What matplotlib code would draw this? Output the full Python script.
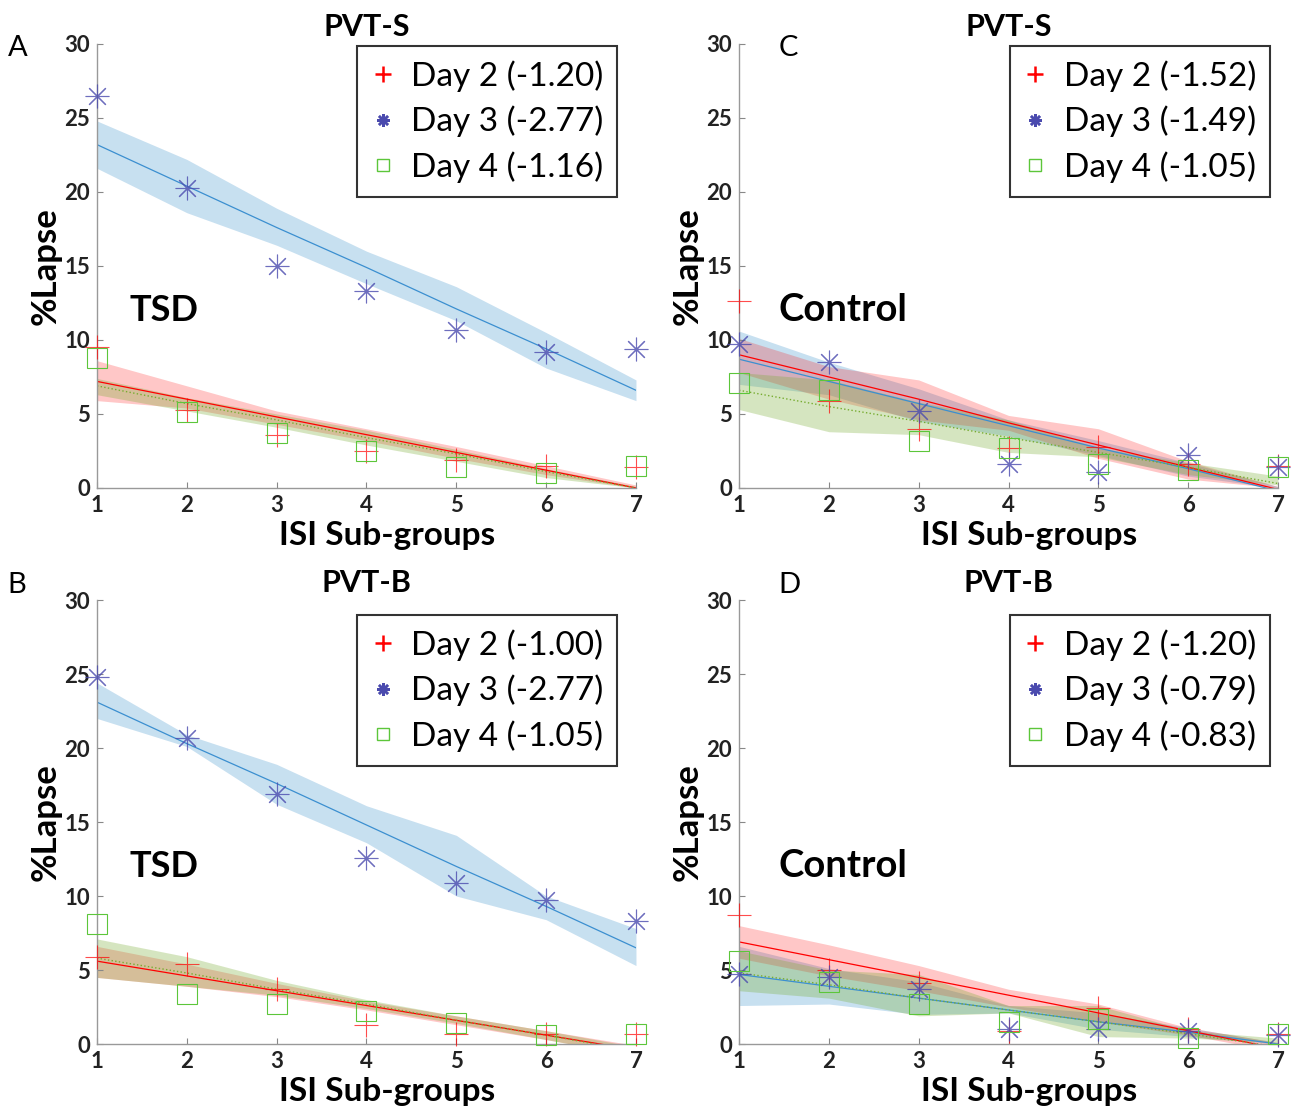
import matplotlib
matplotlib.use("Agg")
import matplotlib.pyplot as plt
from matplotlib.lines import Line2D

plt.rcParams['font.family'] = ['Lato', 'DejaVu Sans']

isi = [1, 2, 3, 4, 5, 6, 7]

# ---- Panel A: PVT-S, TSD
a_d2 = [9.5, 5.3, 3.6, 2.5, 1.9, 1.5, 1.4]
a_d3 = [26.5, 20.3, 15.0, 13.3, 10.7, 9.2, 9.4]
a_d4 = [8.8, 5.1, 3.7, 2.5, 1.4, 1.0, 1.5]
a_d2_fit = [7.2, 6.0, 4.8, 3.6, 2.4, 1.2, 0.0]
a_d3_fit = [23.2, 20.4, 17.6, 14.9, 12.1, 9.4, 6.6]
a_d4_fit = [6.9, 5.7, 4.6, 3.4, 2.3, 1.1, 0.0]
a_d2_lo = [5.9, 5.4, 4.3, 3.2, 2.0, 0.9, 0.0]
a_d2_hi = [8.6, 6.9, 5.2, 4.0, 2.8, 1.5, 0.2]
a_d3_lo = [21.6, 18.6, 16.4, 13.8, 11.3, 8.1, 5.9]
a_d3_hi = [24.8, 22.2, 18.9, 16.0, 13.6, 10.5, 7.3]
a_d4_lo = [6.3, 5.2, 4.1, 2.9, 1.8, 0.7, 0.0]
a_d4_hi = [7.4, 6.1, 5.0, 3.9, 2.6, 1.3, 0.1]
a_labels = ["Day 2 (-1.20)", "Day 3 (-2.77)", "Day 4 (-1.16)"]

# ---- Panel C: PVT-S, Control
c_d2 = [12.6, 5.9, 4.0, 2.7, 2.8, 1.6, 1.5]
c_d3 = [9.7, 8.5, 5.2, 1.6, 1.1, 2.2, 1.4]
c_d4 = [7.1, 6.6, 3.2, 2.7, 1.6, 1.2, 1.4]
c_d2_fit = [9.0, 7.5, 6.0, 4.4, 2.9, 1.4, -0.1]
c_d3_fit = [8.7, 7.2, 5.7, 4.2, 2.7, 1.3, -0.2]
c_d4_fit = [6.6, 5.5, 4.5, 3.4, 2.4, 1.4, 0.3]
c_d2_lo = [7.8, 6.0, 4.6, 3.9, 2.0, 0.6, 0.0]
c_d2_hi = [10.1, 8.2, 7.3, 4.9, 4.0, 1.8, 0.1]
c_d3_lo = [7.0, 6.3, 4.5, 3.5, 2.2, 0.8, 0.0]
c_d3_hi = [10.6, 8.5, 6.7, 4.6, 3.2, 1.7, 0.1]
c_d4_lo = [5.3, 3.8, 3.6, 2.4, 2.1, 0.9, 0.2]
c_d4_hi = [7.8, 7.3, 5.8, 4.6, 2.7, 1.7, 0.8]
c_labels = ["Day 2 (-1.52)", "Day 3 (-1.49)", "Day 4 (-1.05)"]

# ---- Panel B: PVT-B, TSD
b_d2 = [5.9, 5.4, 3.7, 1.3, 0.7, 0.7, 0.7]
b_d3 = [24.8, 20.7, 16.9, 12.6, 10.9, 9.7, 8.3]
b_d4 = [8.1, 3.4, 2.7, 2.2, 1.4, 0.6, 0.7]
b_d2_fit = [5.6, 4.6, 3.6, 2.6, 1.6, 0.6, -0.4]
b_d3_fit = [23.1, 20.3, 17.6, 14.8, 12.0, 9.3, 6.5]
b_d4_fit = [5.8, 4.8, 3.7, 2.7, 1.6, 0.6, -0.5]
b_d2_lo = [4.5, 3.9, 3.2, 2.3, 1.3, 0.3, -0.8]
b_d2_hi = [6.6, 5.4, 4.1, 2.9, 1.9, 0.9, -0.1]
b_d3_lo = [22.0, 20.1, 16.2, 13.6, 10.0, 8.4, 5.3]
b_d3_hi = [24.4, 20.9, 18.9, 16.1, 14.1, 10.0, 7.8]
b_d4_lo = [4.5, 3.9, 3.3, 2.4, 1.4, 0.3, -0.8]
b_d4_hi = [7.1, 5.9, 4.3, 3.0, 1.9, 0.9, -0.2]
b_labels = ["Day 2 (-1.00)", "Day 3 (-2.77)", "Day 4 (-1.05)"]

# ---- Panel D: PVT-B, Control
d_d2 = [8.7, 5.0, 4.1, 0.9, 2.4, 1.0, 0.7]
d_d3 = [4.7, 4.5, 3.7, 1.0, 1.0, 0.9, 0.6]
d_d4 = [5.6, 4.2, 2.7, 1.5, 1.7, 0.4, 0.7]
d_d2_fit = [6.9, 5.7, 4.5, 3.3, 2.1, 0.9, -0.3]
d_d3_fit = [4.7, 3.9, 3.1, 2.3, 1.5, 0.8, 0.0]
d_d4_fit = [4.8, 4.0, 3.1, 2.3, 1.5, 0.7, -0.2]
d_d2_lo = [5.8, 4.6, 3.6, 2.5, 1.5, 0.6, -0.5]
d_d2_hi = [8.0, 6.7, 5.3, 3.7, 2.7, 1.1, 0.1]
d_d3_lo = [2.6, 2.7, 2.0, 2.1, 1.0, 0.5, 0.0]
d_d3_hi = [6.6, 5.1, 4.2, 2.6, 2.1, 1.1, 0.1]
d_d4_lo = [3.6, 3.1, 1.9, 2.1, 0.5, 0.4, 0.1]
d_d4_hi = [6.3, 5.0, 4.7, 2.6, 2.6, 0.9, 0.4]
d_labels = ["Day 2 (-1.20)", "Day 3 (-0.79)", "Day 4 (-0.83)"]

red = "#ff0000"
blue_fill = "#0072BD"
blue_line = "#3b8fd0"
blue_mk = "#4a4aae"
green_fill = "#77AC30"
green_mk = "#5cc63a"
asterisk = (8, 2, 0)

panels = [
    dict(pos=[0.0749, 0.5608, 0.4162, 0.3996], title="PVT-S", letter="A", group="TSD",
         pts=(a_d2, a_d3, a_d4), fit=(a_d2_fit, a_d3_fit, a_d4_fit),
         lo=(a_d2_lo, a_d3_lo, a_d4_lo), hi=(a_d2_hi, a_d3_hi, a_d4_hi),
         labels=a_labels, leg=(0.965, 0.995), let_xy=(0.006, 0.957)),
    dict(pos=[0.5707, 0.5608, 0.4162, 0.3996], title="PVT-S", letter="C", group="Control",
         pts=(c_d2, c_d3, c_d4), fit=(c_d2_fit, c_d3_fit, c_d4_fit),
         lo=(c_d2_lo, c_d3_lo, c_d4_lo), hi=(c_d2_hi, c_d3_hi, c_d4_hi),
         labels=c_labels, leg=(0.985, 0.995), let_xy=(0.601, 0.957)),
    dict(pos=[0.0749, 0.0603, 0.4162, 0.3996], title="PVT-B", letter="B", group="TSD",
         pts=(b_d2, b_d3, b_d4), fit=(b_d2_fit, b_d3_fit, b_d4_fit),
         lo=(b_d2_lo, b_d3_lo, b_d4_lo), hi=(b_d2_hi, b_d3_hi, b_d4_hi),
         labels=b_labels, leg=(0.965, 0.966), let_xy=(0.006, 0.473)),
    dict(pos=[0.5707, 0.0603, 0.4162, 0.3996], title="PVT-B", letter="D", group="Control",
         pts=(d_d2, d_d3, d_d4), fit=(d_d2_fit, d_d3_fit, d_d4_fit),
         lo=(d_d2_lo, d_d3_lo, d_d4_lo), hi=(d_d2_hi, d_d3_hi, d_d4_hi),
         labels=d_labels, leg=(0.985, 0.966), let_xy=(0.601, 0.473)),
]

fig = plt.figure(figsize=(12.95, 11.11), dpi=100)

for p in panels:
    ax = fig.add_axes(p["pos"])
    d2, d3, d4 = p["pts"]
    f2, f3, f4 = p["fit"]
    l2, l3, l4 = p["lo"]
    h2, h3, h4 = p["hi"]

    # confidence bands
    ax.fill_between(isi, l3, h3, color=blue_fill, alpha=0.22, lw=0, zorder=1)
    ax.fill_between(isi, l2, h2, color=red, alpha=0.22, lw=0, zorder=1)
    ax.fill_between(isi, l4, h4, color=green_fill, alpha=0.3, lw=0, zorder=1)

    # fitted lines
    ax.plot(isi, f3, color=blue_line, lw=0.9, zorder=2)
    ax.plot(isi, f2, color=red, lw=0.9, zorder=2)
    ax.plot(isi, f4, color=green_fill, lw=1.0, ls=":", zorder=2)

    # observed values
    ax.plot(isi, d2, ls="none", marker="+", ms=17, mew=0.8, color=red, alpha=0.7,
            clip_on=False, zorder=3)
    ax.plot(isi, d3, ls="none", marker=asterisk, ms=17, mew=0.8, color=blue_mk, alpha=0.8,
            clip_on=False, zorder=3)
    ax.plot(isi, d4, ls="none", marker="s", ms=14, mew=0.8, mfc="none", mec=green_mk,
            clip_on=False, zorder=3)

    ax.set_xlim(1, 7)
    ax.set_ylim(0, 30)
    ax.set_xticks(isi)
    ax.set_yticks([0, 5, 10, 15, 20, 25, 30])
    ax.tick_params(direction="in", length=4, width=0.8, color="#888888",
                   labelsize=16, pad=5)
    for lab in ax.get_xticklabels() + ax.get_yticklabels():
        lab.set_fontweight("bold")
        lab.set_color("#222222")
    for s in ["top", "right"]:
        ax.spines[s].set_visible(False)
    for s in ["left", "bottom"]:
        ax.spines[s].set_color("#999999")
        ax.spines[s].set_linewidth(1.0)

    ax.set_title(p["title"], fontsize=22, fontweight="bold", pad=6)
    ax.set_xlabel("ISI Sub-groups", fontsize=24, fontweight="bold")
    ax.xaxis.set_label_coords(0.538, -0.075)
    ax.set_ylabel("%Lapse", fontsize=25, fontweight="bold")
    ax.yaxis.set_label_coords(-0.066, 0.5)

    ax.text(0.061 if p["group"] == "TSD" else 0.074, 0.40, p["group"],
            transform=ax.transAxes, fontsize=26 if p["group"] == "TSD" else 27.5,
            fontweight="bold", va="center", ha="left")

    handles = [
        Line2D([], [], ls="none", marker="+", ms=11, mew=1.8, color=red),
        Line2D([], [], ls="none", marker=asterisk, ms=9, mew=1.8, color=blue_mk),
        Line2D([], [], ls="none", marker="s", ms=9, mew=1.0, mfc="none", mec=green_mk),
    ]
    leg = ax.legend(handles, p["labels"], loc="upper right", bbox_to_anchor=p["leg"],
                    fontsize=24, frameon=True, fancybox=False, edgecolor="black",
                    handlelength=0.7, handletextpad=0.5, borderpad=0.42,
                    labelspacing=0.42, borderaxespad=0)
    leg.get_frame().set_linewidth(1.5)

    fig.text(p["let_xy"][0], p["let_xy"][1], p["letter"], fontsize=21,
             va="center", ha="left")

fig.savefig("out.png", dpi=100)
